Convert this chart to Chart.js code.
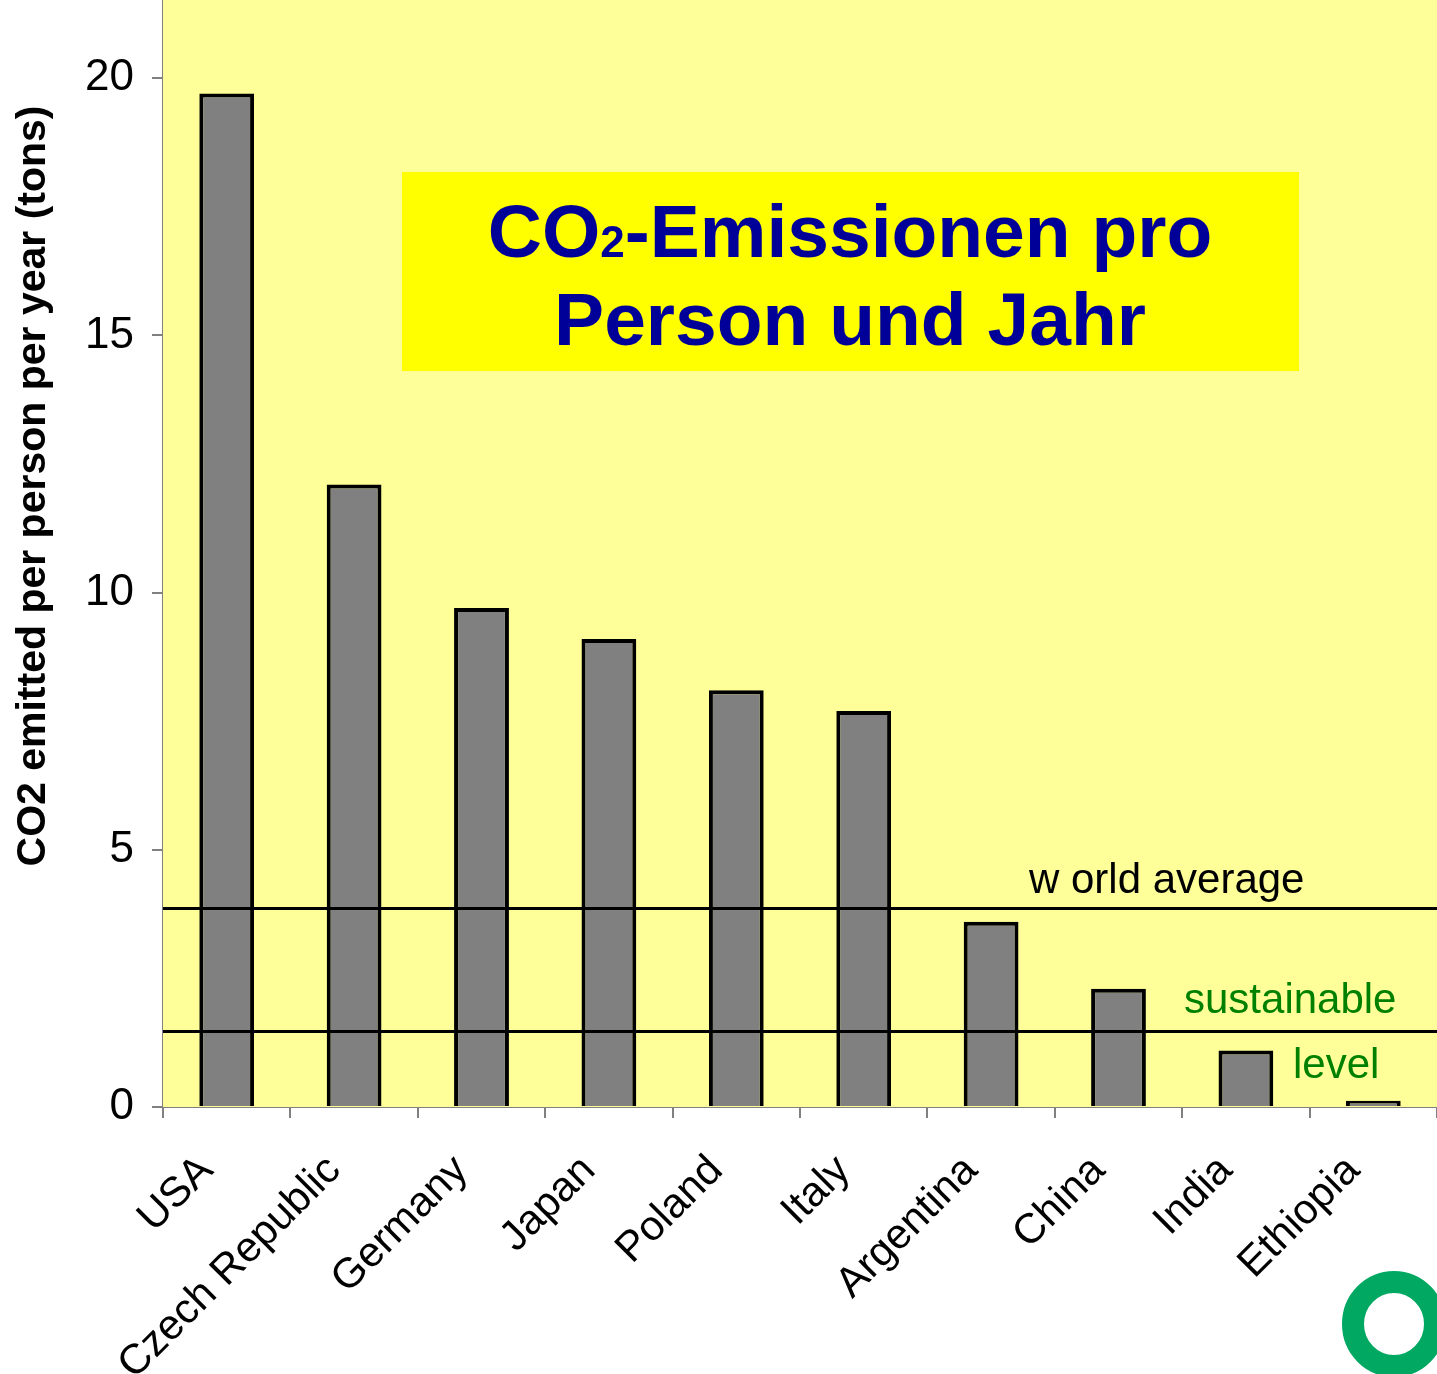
<!DOCTYPE html>
<html>
<head>
<meta charset="utf-8">
<script src="https://cdn.jsdelivr.net/npm/chart.js@4"></script>
<style>
  html, body { margin: 0; padding: 0; background: #fff; }
  canvas { display: block; }
</style>
</head>
<body>
<canvas id="co2Chart" width="1437" height="1374"></canvas>
<script>
// values
const countries = ['USA', 'Czech Republic', 'Germany', 'Japan', 'Poland', 'Italy', 'Argentina', 'China', 'India', 'Ethiopia'];
const emissions = [19.7, 12.1, 9.7, 9.1, 8.1, 7.7, 3.6, 2.3, 1.1, 0.12];
const yTicks = [0, 5, 10, 15, 20];
const worldAverage = 3.87;
const sustainableLevel = 1.48;

const FONT = '"Liberation Sans", Arial, sans-serif';

// Hintergrund, Linien, Titel-Box und Logo
const decorations = {
    id: 'decorations',
    beforeDatasetsDraw(chart) {
        const { ctx, chartArea: a } = chart;
        ctx.save();
        ctx.fillStyle = '#FFFF99';
        ctx.fillRect(a.left, a.top, a.right - a.left, a.bottom - a.top);

        // title box
        ctx.fillStyle = '#FFFF00';
        ctx.fillRect(402, 172, 897, 199);
        ctx.fillStyle = '#000099';
        ctx.textBaseline = 'alphabetic';
        const p1 = 'CO', p2 = '2', p3 = '-Emissionen pro';
        ctx.font = 'bold 75px ' + FONT;
        const w1 = ctx.measureText(p1).width, w3 = ctx.measureText(p3).width;
        ctx.font = 'bold 44px ' + FONT;
        const w2 = ctx.measureText(p2).width;
        let x = 850 - (w1 + w2 + w3) / 2;
        ctx.font = 'bold 75px ' + FONT;
        ctx.textAlign = 'left';
        ctx.fillText(p1, x, 257);
        x += w1;
        ctx.font = 'bold 44px ' + FONT;
        ctx.fillText(p2, x, 257);
        x += w2;
        ctx.font = 'bold 75px ' + FONT;
        ctx.fillText(p3, x, 257);
        ctx.textAlign = 'center';
        ctx.fillText('Person und Jahr', 850, 345);
        ctx.restore();
    },
    afterDatasetsDraw(chart) {
        const { ctx, chartArea: a, scales: { y } } = chart;
        ctx.save();
        ctx.strokeStyle = '#000';
        ctx.lineWidth = 3;
        [worldAverage, sustainableLevel].forEach(v => {
            const py = Math.round(y.getPixelForValue(v)) + 0.5;
            ctx.beginPath();
            ctx.moveTo(a.left, py);
            ctx.lineTo(a.right, py);
            ctx.stroke();
        });

        ctx.font = '42px ' + FONT;
        ctx.textAlign = 'left';
        ctx.textBaseline = 'alphabetic';
        ctx.fillStyle = '#000';
        ctx.fillText('w orld average', 1029, 893);
        ctx.fillStyle = '#008000';
        ctx.fillText('sustainable', 1184, 1013);
        ctx.fillText('level', 1293, 1078);
        ctx.restore();
    },
    afterDraw(chart) {
        const { ctx } = chart;
        ctx.save();
        // y axis title
        ctx.translate(34, 486);
        ctx.rotate(-Math.PI / 2);
        ctx.font = 'bold 41px ' + FONT;
        ctx.fillStyle = '#000';
        ctx.textAlign = 'center';
        ctx.textBaseline = 'middle';
        ctx.fillText('CO2 emitted per person per year (tons)', 0, 0);
        ctx.restore();

        // logo ring
        ctx.save();
        ctx.strokeStyle = '#00A862';
        ctx.lineWidth = 22;
        ctx.beginPath();
        ctx.ellipse(1394, 1324, 41, 42, 0, 0, Math.PI * 2);
        ctx.stroke();
        ctx.restore();
    }
};

new Chart(document.getElementById('co2Chart'), {
    type: 'bar',
    data: {
        labels: countries,
        datasets: [{
            data: emissions,
            backgroundColor: '#808080',
            borderColor: '#000',
            borderWidth: 4,
            barPercentage: 0.43,
            categoryPercentage: 1
        }]
    },
    options: {
        responsive: false,
        devicePixelRatio: 1,
        animation: false,
        layout: { padding: 0 },
        plugins: {
            legend: { display: false },
            tooltip: { enabled: false }
        },
        scales: {
            x: {
                offset: true,
                grid: {
                    offset: true,
                    drawOnChartArea: false,
                    color: '#808080',
                    lineWidth: 2,
                    tickLength: 11
                },
                border: { color: '#808080', width: 2 },
                ticks: {
                    color: '#000',
                    font: { size: 42, family: FONT },
                    minRotation: 45,
                    maxRotation: 45,
                    padding: 28,
                    labelOffset: -20,
                    autoSkip: false
                },
                afterFit(scale) {
                    scale.height = 267;
                    scale.paddingLeft = 0;
                    scale.paddingRight = 0;
                }
            },
            y: {
                min: 0,
                max: 21.52,
                grid: {
                    drawOnChartArea: false,
                    color: '#808080',
                    lineWidth: 2,
                    tickLength: 11
                },
                border: { color: '#808080', width: 2 },
                ticks: {
                    color: '#000',
                    font: { size: 44, family: FONT },
                    padding: 18
                },
                afterBuildTicks(scale) {
                    scale.ticks = yTicks.map(v => ({ value: v }));
                },
                afterFit(scale) {
                    scale.width = 163;
                    scale.paddingTop = 0;
                    scale.paddingBottom = 0;
                }
            }
        }
    },
    plugins: [decorations]
});
</script>
</body>
</html>
